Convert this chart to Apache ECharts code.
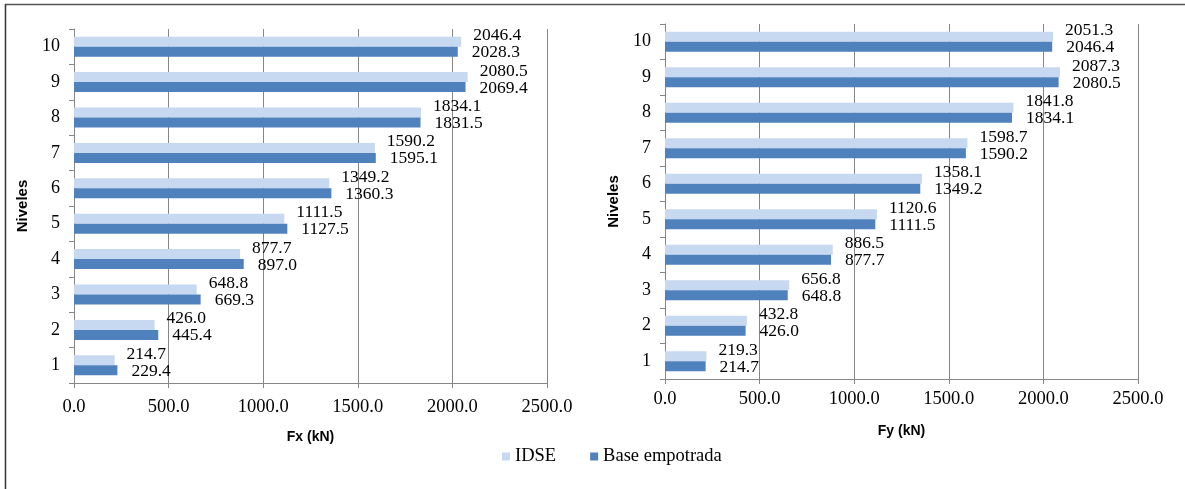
<!DOCTYPE html>
<html>
<head>
<meta charset="utf-8">
<script src="https://cdn.jsdelivr.net/npm/echarts@6/dist/echarts.min.js"></script>
<style>
html,body{margin:0;padding:0;background:#fff;}
#c{width:1185px;height:489px;}
</style>
</head>
<body>
<div id="c"></div>
<script>
const levels = ['1','2','3','4','5','6','7','8','9','10'];
const seriesNames = ['IDSE', 'Base empotrada'];
const fxIDSE = [214.7, 426.0, 648.8, 877.7, 1111.5, 1349.2, 1590.2, 1834.1, 2080.5, 2046.4];
const fxBase = [229.4, 445.4, 669.3, 897.0, 1127.5, 1360.3, 1595.1, 1831.5, 2069.4, 2028.3];
const fyIDSE = [219.3, 432.8, 656.8, 886.5, 1120.6, 1358.1, 1598.7, 1841.8, 2087.3, 2051.3];
const fyBase = [214.7, 426.0, 648.8, 877.7, 1111.5, 1349.2, 1590.2, 1834.1, 2080.5, 2046.4];
const xTicks = {min: 0, max: 2500, interval: 500};
const xNames = ['Fx (kN)', 'Fy (kN)'];
const yName = 'Niveles';

const LIGHT = '#C6D9F1';
const DARK = '#4F81BD';
const AXIS = '#868686';
const SERIF = '"Liberation Serif", "Times New Roman", serif';
const SANS = '"Liberation Sans", Arial, sans-serif';

const chart = echarts.init(document.getElementById('c'), null, {renderer: 'canvas'});

function xAxisCfg(gi, labelMargin, nameGap) {
  return {
    type: 'value', gridIndex: gi,
    min: xTicks.min, max: xTicks.max, interval: xTicks.interval,
    name: xNames[gi], nameLocation: 'middle', nameGap: nameGap,
    nameTextStyle: {fontFamily: SANS, fontWeight: 'bold', fontSize: 14, color: '#000'},
    axisLine: {show: true, lineStyle: {color: AXIS, width: 1}},
    axisTick: {show: true, length: 5, lineStyle: {color: AXIS}},
    axisLabel: {margin: labelMargin, fontFamily: SERIF, fontSize: 18.5, color: '#000',
      formatter: v => v.toFixed(1)},
    splitLine: {show: true, lineStyle: {color: AXIS, width: 1}}
  };
}
function yAxisCfg(gi) {
  return {
    type: 'category', gridIndex: gi, data: levels,
    name: yName, nameLocation: 'middle', nameGap: 44, nameRotate: 90,
    nameTextStyle: {fontFamily: SANS, fontWeight: 'bold', fontSize: 15, color: '#000'},
    axisLine: {show: true, lineStyle: {color: AXIS, width: 1}},
    axisTick: {show: true, length: 5, lineStyle: {color: AXIS}},
    axisLabel: {margin: 14, fontFamily: SERIF, fontSize: 18, color: '#000'},
    splitLine: {show: false}
  };
}
function barSeries(name, data, gi, color, dy, dist) {
  return {
    name: name, type: 'bar', xAxisIndex: gi, yAxisIndex: gi,
    data: data, barWidth: 10, barGap: '0%',
    itemStyle: {color: color},
    label: {show: true, position: 'right', distance: dist, offset: [0, dy],
      fontFamily: SERIF, fontSize: 17.5, color: '#000',
      formatter: p => p.value.toFixed(1)},
    animation: false
  };
}

chart.setOption({
  animation: false,
  grid: [
    {left: 74, right: 638, top: 29, bottom: 106},
    {left: 665, right: 47, top: 24, bottom: 110}
  ],
  legend: {
    data: seriesNames, left: 497, top: 442,
    itemWidth: 8, itemHeight: 8, itemGap: 34, icon: 'rect',
    textStyle: {fontFamily: SERIF, fontSize: 18.5, color: '#000'}
  },
  xAxis: [xAxisCfg(0, 15, 47), xAxisCfg(1, 11, 45)],
  yAxis: [yAxisCfg(0), yAxisCfg(1)],
  series: [
    barSeries(seriesNames[0], fxIDSE, 0, LIGHT, -6, 12),
    barSeries(seriesNames[1], fxBase, 0, DARK, 1, 14),
    barSeries(seriesNames[0], fyIDSE, 1, LIGHT, -6, 12),
    barSeries(seriesNames[1], fyBase, 1, DARK, 1, 14)
  ],
  graphic: [
    {type: 'line', shape: {x1: 5, y1: 4.5, x2: 1185, y2: 4.5}, style: {stroke: '#555', lineWidth: 1.5}},
    {type: 'line', shape: {x1: 5.5, y1: 4, x2: 5.5, y2: 489}, style: {stroke: '#333', lineWidth: 1.5}}
  ]
});
</script>
</body>
</html>
